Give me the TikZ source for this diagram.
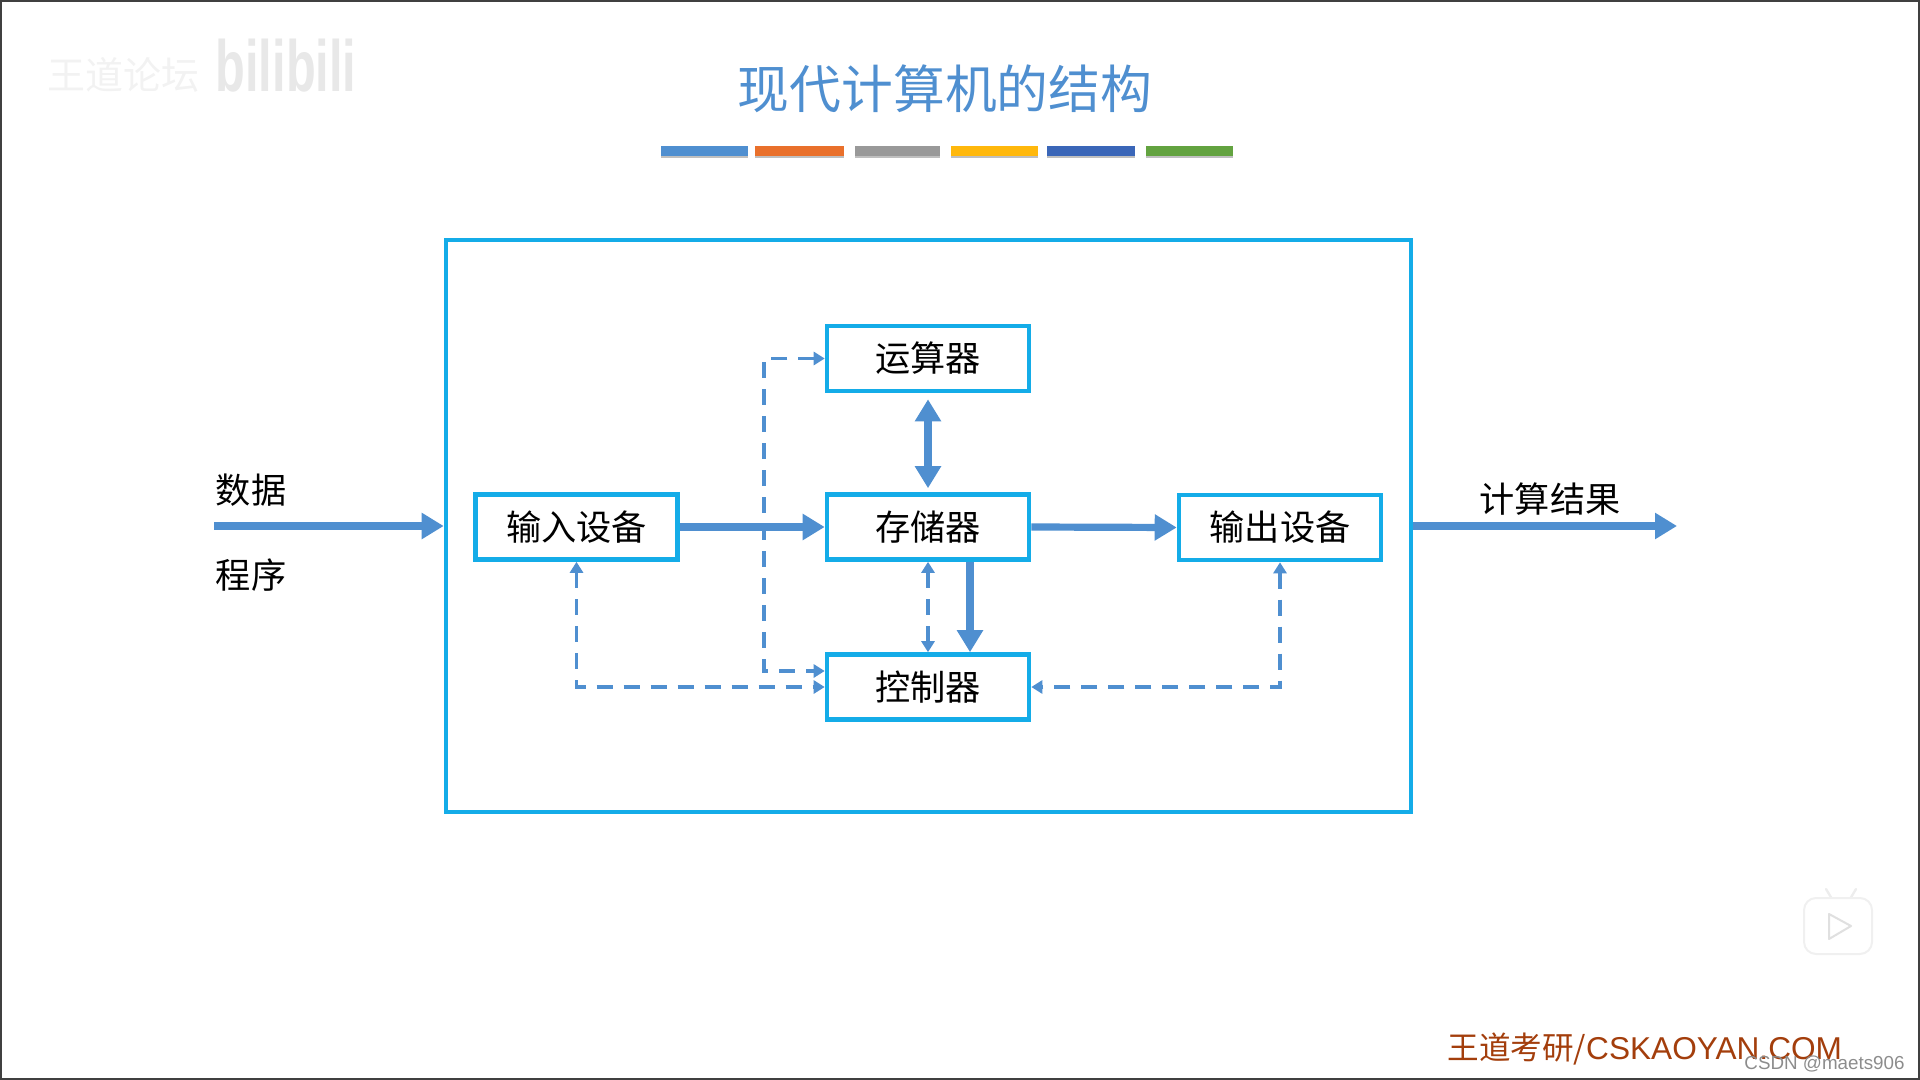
\documentclass[tikz,border=0pt]{standalone}
\usepackage{fontspec}
\setmainfont{Noto Sans CJK SC}
\newfontfamily\latinfont{Liberation Sans}
\usetikzlibrary{arrows.meta, calc}

\begin{document}
\begin{tikzpicture}[x=0.5pt, y=-0.5pt]
    % Define colours
    \definecolor{frameColour}{HTML}{14ACE8}
    \definecolor{arrowColour}{HTML}{4F8FD0}
    \definecolor{footerColour}{HTML}{A33E0C}

    \tikzset{
        unitbox/.style={draw=frameColour, line width=2.3pt, fill=white, minimum width=101pt, minimum height=32.5pt, inner sep=0pt, font=\fontsize{17.6}{20}\selectfont},
        outerbox/.style={draw=frameColour, line width=2.3pt, minimum width=482.5pt, minimum height=286pt},
        sidelabel/.style={font=\fontsize{17.6}{20}\selectfont, inner sep=0pt},
        dataflow/.style={draw=arrowColour, line width=3.6pt, -{Triangle[width=12.5pt,length=11pt]}},
        databoth/.style={draw=arrowColour, line width=3.6pt, {Triangle[width=12.5pt,length=11pt]}-{Triangle[width=12.5pt,length=11pt]}},
        signalflow/.style={draw=arrowColour, line width=1.8pt, dash pattern=on 8pt off 5.5pt, {Triangle[width=6.5pt,length=5.5pt]}-{Triangle[width=6.5pt,length=5.5pt]}}
    }

    \useasboundingbox (0,0) rectangle (1920,1080);

    % Draw page edge
    \draw[black!75, line width=1pt] (1,1) rectangle (1919,1079);

    % Draw watermark
    \node[text=black!5, inner sep=0pt, font=\fontsize{19}{22}\selectfont] (forum) at (123,75) {王道论坛};
    \node[text=black!9, inner sep=0pt, xscale=0.84, yscale=1.25, font=\latinfont\bfseries\fontsize{29}{32}\selectfont] (site) at (286,66) {bilibili};

    % Draw title
    \node[text=arrowColour, inner sep=0pt, font=\fontsize{25.9}{30}\selectfont] (title) at (945,89) {现代计算机的结构};

    % Draw colour bars
    \foreach \xa/\xb/\barColour in {661/748/4F8FD0, 755/844/E9702B, 855/940/999999, 951/1038/FFB80C, 1047/1135/3A66B8, 1146/1233/63A340} {
        \definecolor{currentBar}{HTML}{\barColour}
        \fill[black!25] (\xa,148) rectangle (\xb,158);
        \fill[currentBar] (\xa,146) rectangle (\xb,156);
    }

    % Draw the boxes
    \node[outerbox] (computer) at (928.5,526) {};
    \node[unitbox] (input) at (576.5,527) {输入设备};
    \node[unitbox] (memory) at (928,527) {存储器};
    \node[unitbox] (alu) at (928,358.5) {运算器};
    \node[unitbox] (control) at (928,687) {控制器};
    \node[unitbox] (output) at (1280,527.5) {输出设备};

    % Define the free ends
    \coordinate (dataStart) at (214,526);
    \coordinate (resultEnd) at (1677,526);
    \coordinate (signalBus) at (764,358.5);

    % Draw side labels
    \node[sidelabel] (data) at (251,490) {数据};
    \node[sidelabel] (program) at (251,575) {程序};
    \node[sidelabel] (result) at (1550,499) {计算结果};

    % Draw signal arrows
    \draw[signalflow] (alu.west) -- (signalBus) |- ([yshift=8pt]control.west);
    \draw[signalflow] (input.south) |- (control.west);
    \draw[signalflow] (output.south) |- (control.east);
    \draw[signalflow] (memory.south) -- (control.north);

    % Draw data arrows
    \draw[dataflow] (dataStart) -- (dataStart -| computer.west);
    \draw[dataflow] (input.east) -- (memory.west);
    \draw[dataflow] (memory.east) -- (output.west);
    \draw[dataflow] (resultEnd -| computer.east) -- (resultEnd);
    \draw[databoth] ([yshift=-3pt]alu.south) -- ([yshift=2pt]memory.north);
    \draw[dataflow] ([xshift=21pt]memory.south) -- ([xshift=21pt]control.north);

    % Draw player icon
    \draw[black!7, line width=1.2pt, line cap=round] (1826,889) -- (1832,899) (1850,899) -- (1856,889);
    \node[draw=black!6, fill=white, line width=1pt, rounded corners=6pt, minimum width=34pt, minimum height=28pt] (player) at (1838,926) {};
    \draw[black!12, line width=1pt, line join=round] (1829,914) -- (1851,926) -- (1829,939) -- cycle;

    % Draw footer
    \node[text=footerColour, inner sep=0pt, anchor=west, font=\fontsize{15.8}{18}\selectfont] (footer) at (1447,1049) {王道考研/{\latinfont CSKAOYAN.COM}};
    \node[text=black!45, inner sep=0pt, anchor=east, font=\latinfont\fontsize{9.4}{12}\selectfont] (credit) at (1905,1064) {CSDN @maets906};
\end{tikzpicture}
\end{document}
